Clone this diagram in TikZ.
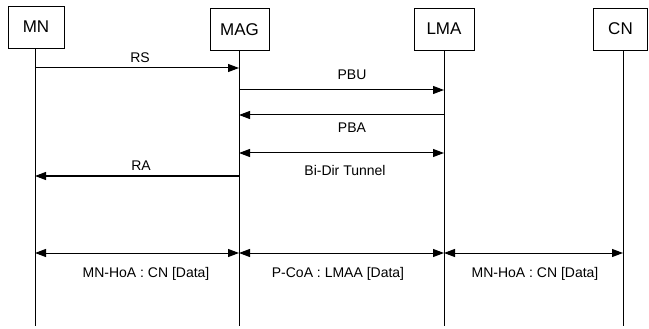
\documentclass[tikz,border=0pt]{standalone}
\usepackage{fontspec}
\setmainfont{Liberation Sans}
\usetikzlibrary{arrows.meta}
\begin{document}
\begin{tikzpicture}[x=1pt,y=-1pt,
  entity/.style={draw,line width=0.8pt,minimum height=42pt,inner sep=0pt,font=\fontsize{17}{17}\selectfont},
  life/.style={line width=1pt},
  msg/.style={line width=1pt,-{Triangle[length=11pt,width=8pt]}},
  bimsg/.style={line width=1pt,{Triangle[length=11pt,width=8pt]}-{Triangle[length=11pt,width=8pt]}},
  lbl/.style={font=\fontsize{14}{14}\selectfont,inner sep=0pt}]
\useasboundingbox (0,0) rectangle (649,329);
\fill[white] (0,0) rectangle (649,329);
% entities
\node[entity,minimum width=56pt] (mn) at (36,27) {MN};
\node[entity,minimum width=59pt] (mag) at (239.5,29.5) {MAG};
\node[entity,minimum width=60pt] (lma) at (444,29) {LMA};
\node[entity,minimum width=54pt] (cn) at (620.5,29) {CN};
% lifeline ends
\coordinate (mnE) at (35,326);
\coordinate (magE) at (239,326);
\coordinate (lmaE) at (444,326);
\coordinate (cnE) at (623,326);
\draw[life] (mn.south -| mnE) -- (mnE);
\draw[life] (mag.south -| magE) -- (magE);
\draw[life] (lma.south -| lmaE) -- (lmaE);
\draw[life] (cn.south -| cnE) -- (cnE);
% message points
\coordinate (mn1) at (35,68);   \coordinate (mag1) at (239,68);
\coordinate (mag2) at (239,90); \coordinate (lma2) at (444,90);
\coordinate (mag3) at (239,115); \coordinate (lma3) at (444,115);
\coordinate (mag4) at (239,153); \coordinate (lma4) at (444,153);
\coordinate (mn5) at (35,176);  \coordinate (mag5) at (239,176);
\coordinate (mn6) at (35,253);  \coordinate (mag6) at (239,253);
\coordinate (lma6) at (444,253); \coordinate (cn6) at (623,253);
% messages
\draw[msg] (mn1) -- (mag1);
\node[lbl] (rs) at (140,58) {RS};
\draw[msg] (mag2) -- (lma2);
\node[lbl] (pbu) at (352,75) {PBU};
\draw[msg] (lma3) -- (mag3);
\node[lbl] (pba) at (352,128) {PBA};
\draw[bimsg] (mag4) -- (lma4);
\node[lbl] (bidir) at (345,170) {Bi-Dir Tunnel};
\draw[msg] (mag5) -- (mn5);
\node[lbl] (ra) at (141,166) {RA};
\draw[bimsg] (mn6) -- (mag6);
\draw[bimsg] (mag6) -- (lma6);
\draw[bimsg] (lma6) -- (cn6);
\node[lbl] (d1) at (146,274) {MN-HoA : CN [Data]};
\node[lbl] (d2) at (338,274) {P-CoA : LMAA [Data]};
\node[lbl] (d3) at (535,274) {MN-HoA : CN [Data]};
\end{tikzpicture}
\end{document}
